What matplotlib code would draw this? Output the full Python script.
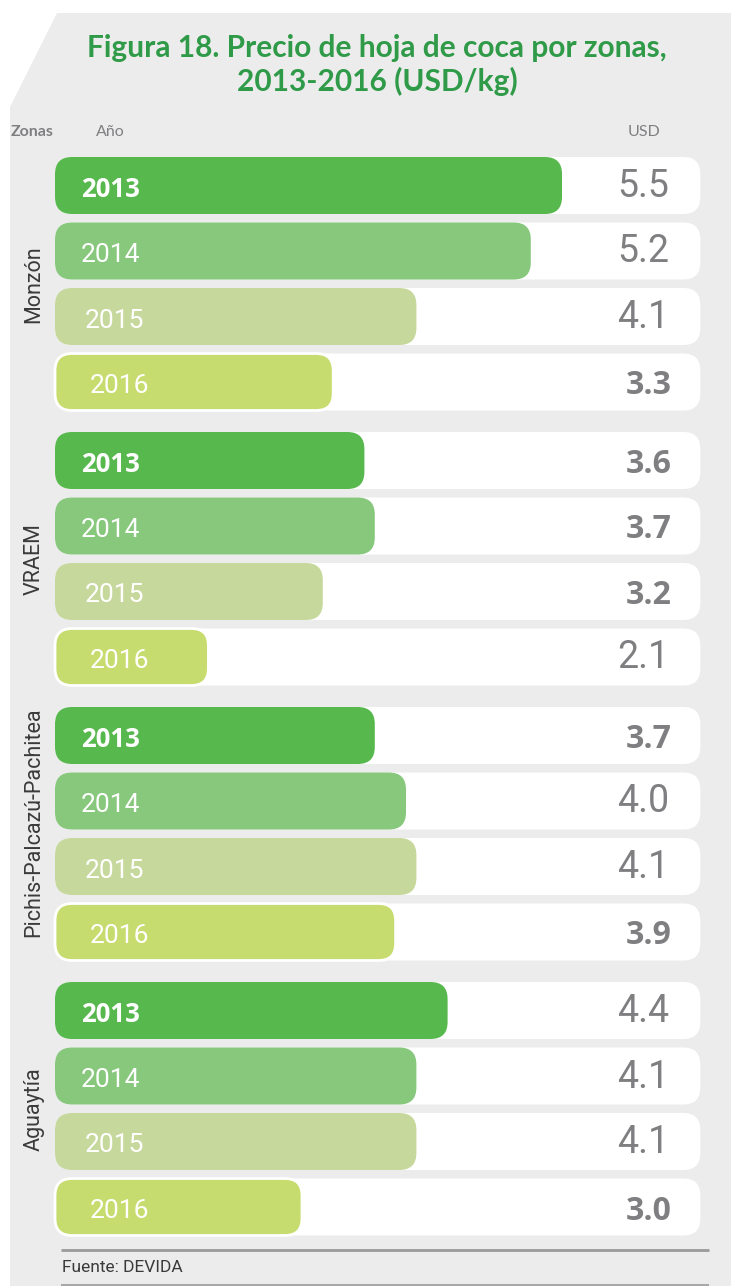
import matplotlib
matplotlib.use("Agg")
import matplotlib.pyplot as plt
from matplotlib.patches import FancyBboxPatch, Polygon

# --- data -------------------------------------------------------------
zones = ["Monzón", "VRAEM", "Pichis-Palcazú-Pachitea", "Aguaytía"]
years = ["2013", "2014", "2015", "2016"]
monzon = [5.5, 5.2, 4.1, 3.3]
vraem = [3.6, 3.7, 3.2, 2.1]
pichis = [3.7, 4.0, 4.1, 3.9]
aguaytia = [4.4, 4.1, 4.1, 3.0]
prices = [monzon, vraem, pichis, aguaytia]

# which value labels are set in bold
bold_monzon = [False, False, False, True]
bold_vraem = [True, True, True, False]
bold_pichis = [True, False, False, True]
bold_aguaytia = [False, False, False, True]
bold_values = [bold_monzon, bold_vraem, bold_pichis, bold_aguaytia]

# --- styling ----------------------------------------------------------
W, H = 731, 1286
DPI = 100
year_colors = ["#57b84d", "#87c87d", "#c7d89d", "#c7dc6e"]
year_bold = [True, False, False, False]
year_dx = [26, 26, 30, 35]          # label inset from bar start (px)
zone_dy = [0, 0, -12, 0]            # zone label shift (px)
title_green = "#2f9a48"
label_gray = "#7f7f82"
panel_gray = "#ececec"

PX_PER_USD = 104.0                  # horizontal scale
X_ORIGIN_PX = -10.0                 # pixel where USD = 0 would fall
BAR_START = 0.625                   # bars and tracks start here (USD)
TRACK_END = 6.83                    # white track end (USD)
BAR_H = 57                          # px
ROW_PITCH = 65.5
GROUP_PITCH = 275
FIRST_ROW = 185.5
RADIUS_PX = 17

fig = plt.figure(figsize=(W / DPI, H / DPI), dpi=DPI)
fig.patch.set_facecolor("white")

# pixel canvas for decorations
cv = fig.add_axes([0, 0, 1, 1], zorder=0)
cv.set_xlim(0, W)
cv.set_ylim(H, 0)
cv.axis("off")

# data axes: x in USD/kg, y in pixel rows
ax = fig.add_axes([0, 0, 1, 1], zorder=1)
ax.set_xlim((0 - X_ORIGIN_PX) / PX_PER_USD, (W - X_ORIGIN_PX) / PX_PER_USD)
ax.set_ylim(H, 0)
ax.axis("off")
ax.patch.set_alpha(0)

# background panel with a cut top-left corner
cv.add_patch(Polygon([(57, 13), (W, 13), (W, H), (10, H), (10, 107)],
                     closed=True, facecolor=panel_gray, edgecolor="none"))

# title
cv.text(377, 48, "Figura 18. Precio de hoja de coca por zonas,",
        ha="center", va="center", fontsize=21.5, fontweight="bold",
        family="Lato", color=title_green)
cv.text(377, 81, "2013-2016 (USD/kg)",
        ha="center", va="center", fontsize=21.5, fontweight="bold",
        family="Lato", color=title_green)

# column headers
cv.text(11, 132, "Zonas", ha="left", va="center", fontsize=11.5,
        fontweight="bold", family="Lato", color=label_gray)
cv.text(96, 132, "Año", ha="left", va="center", fontsize=11.5,
        family="Lato", color=label_gray)
cv.text(660, 132, "USD", ha="right", va="center", fontsize=11.5,
        family="Lato", color=label_gray)

r = RADIUS_PX / PX_PER_USD
for g, (zone, vals, bolds) in enumerate(zip(zones, prices, bold_values)):
    centers = [FIRST_ROW + g * GROUP_PITCH + i * ROW_PITCH for i in range(len(years))]
    for i, (yr, v, b) in enumerate(zip(years, vals, bolds)):
        yc = centers[i]
        y0 = yc - BAR_H / 2
        # white track
        ax.add_patch(FancyBboxPatch(
            (BAR_START, y0), TRACK_END - BAR_START, BAR_H,
            boxstyle=f"round,pad=0,rounding_size={r}",
            mutation_aspect=PX_PER_USD, facecolor="white", edgecolor="none"))
        # value bar
        edge_w = 2.0 if i == len(years) - 1 else 0
        ax.add_patch(FancyBboxPatch(
            (BAR_START, y0), v - BAR_START, BAR_H,
            boxstyle=f"round,pad=0,rounding_size={r}",
            mutation_aspect=PX_PER_USD, facecolor=year_colors[i],
            edgecolor="white", linewidth=edge_w))
        # year label inside bar
        if year_bold[i]:
            ax.text(BAR_START + year_dx[i] / PX_PER_USD, yc + 4, yr,
                    ha="left", va="center", fontsize=18.5, color="white",
                    family="Open Sans", fontweight="bold")
        else:
            ax.text(BAR_START + year_dx[i] / PX_PER_USD, yc + 4, yr,
                    ha="left", va="center", fontsize=19, color="white",
                    family="Roboto")
        # value label
        if b:
            ax.text((672 - X_ORIGIN_PX) / PX_PER_USD, yc + 4, f"{v:.1f}",
                    ha="right", va="center", fontsize=23, fontweight="bold",
                    family="Open Sans", color=label_gray)
        else:
            ax.text((669 - X_ORIGIN_PX) / PX_PER_USD, yc + 1, f"{v:.1f}",
                    ha="right", va="center", fontsize=27,
                    family="Roboto", color=label_gray)
    # zone label, rotated
    cv.text(34, (centers[0] + centers[-1]) / 2 + zone_dy[g], zone, rotation=90,
            ha="center", va="center", fontsize=15.5, family="Roboto",
            color="#3a3a3a")

# source footer
cv.plot([61, 709], [1250, 1250], color="#9a9a9a", lw=2.0, solid_capstyle="butt")
cv.plot([61, 709], [1284.5, 1284.5], color="#9a9a9a", lw=1.2, solid_capstyle="butt")
cv.text(62, 1268, "Fuente: DEVIDA", ha="left", va="center", fontsize=12.5,
        family="Roboto", color="#3a3a3a")

fig.savefig("out.png", dpi=DPI, facecolor=fig.get_facecolor())
